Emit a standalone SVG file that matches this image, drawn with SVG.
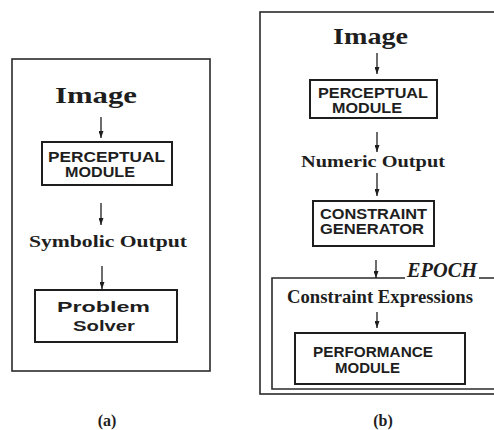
<svg xmlns="http://www.w3.org/2000/svg" width="494" height="430" viewBox="0 0 494 430">
<style>
.frame{fill:none;stroke:#2a2a2a;stroke-width:1.6}
.box{fill:none;stroke:#1e1e1e;stroke-width:2}
.serif{font-family:"Liberation Serif","Times New Roman",serif;font-weight:bold;fill:#1e1e1e}
.sans{font-family:"Liberation Sans",Arial,sans-serif;font-weight:bold;fill:#1e1e1e;font-size:14px}
.arrow{stroke:#1e1e1e;stroke-width:1.3;fill:none;marker-end:url(#ah)}
</style>
<defs>
<marker id="ah" markerUnits="userSpaceOnUse" viewBox="0 0 7 5" markerWidth="7" markerHeight="5" refX="7" refY="2.5" orient="auto">
<path d="M0,0 L7,2.5 L0,5 z" fill="#1e1e1e"/>
</marker>
</defs>
<rect width="494" height="430" fill="#ffffff"/>

<g id="frame-a"><rect class="frame" x="12" y="59" width="198" height="312"/></g>
<g id="frame-b"><rect class="frame" x="260" y="12" width="245" height="382"/></g>
<g id="epoch-frame">
<path class="frame" d="M500,278 H479 M405,278 H272 V389 H500" stroke-width="2"/>
<text class="serif" x="407" y="277" font-size="21" font-style="italic" textLength="70" lengthAdjust="spacingAndGlyphs">EPOCH</text>
</g>

<g id="a-image"><text class="serif" x="55" y="103" font-size="24" textLength="82" lengthAdjust="spacingAndGlyphs">Image</text></g>
<g id="a-perceptual">
<rect class="box" x="42" y="142" width="130" height="43"/>
<text class="sans" x="48" y="162" textLength="117" lengthAdjust="spacingAndGlyphs">PERCEPTUAL</text>
<text class="sans" x="65" y="177" textLength="70" lengthAdjust="spacingAndGlyphs">MODULE</text>
</g>
<g id="a-symbolic"><text class="serif" x="29" y="247" font-size="17" textLength="158" lengthAdjust="spacingAndGlyphs">Symbolic Output</text></g>
<g id="a-solver">
<rect class="box" x="35" y="290" width="142" height="52"/>
<text class="sans" x="57" y="312" font-size="17" textLength="93" lengthAdjust="spacingAndGlyphs">Problem</text>
<text class="sans" x="73" y="331" font-size="17" textLength="62" lengthAdjust="spacingAndGlyphs">Solver</text>
</g>

<g id="b-image"><text class="serif" x="333" y="44" font-size="24" textLength="75" lengthAdjust="spacingAndGlyphs">Image</text></g>
<g id="b-perceptual">
<rect class="box" x="310" y="80" width="127" height="38"/>
<text class="sans" x="318" y="98" font-size="13" textLength="110" lengthAdjust="spacingAndGlyphs">PERCEPTUAL</text>
<text class="sans" x="332" y="113" font-size="13" textLength="70" lengthAdjust="spacingAndGlyphs">MODULE</text>
</g>
<g id="b-numeric"><text class="serif" x="301" y="167" font-size="17" textLength="144" lengthAdjust="spacingAndGlyphs">Numeric Output</text></g>
<g id="b-constraint">
<rect class="box" x="313" y="201" width="121" height="45"/>
<text class="sans" x="320" y="219" font-size="13" textLength="107" lengthAdjust="spacingAndGlyphs">CONSTRAINT</text>
<text class="sans" x="320" y="234" font-size="13" textLength="104" lengthAdjust="spacingAndGlyphs">GENERATOR</text>
</g>
<g id="b-expressions"><text class="serif" x="287" y="303" font-size="18" textLength="186" lengthAdjust="spacingAndGlyphs">Constraint Expressions</text></g>
<g id="b-performance">
<rect class="box" x="295" y="333" width="170" height="51"/>
<text class="sans" x="313" y="357" textLength="120" lengthAdjust="spacingAndGlyphs">PERFORMANCE</text>
<text class="sans" x="335" y="373" textLength="65" lengthAdjust="spacingAndGlyphs">MODULE</text>
</g>

<g id="connectors">
<line class="arrow" x1="101" y1="117" x2="101" y2="138"/>
<line class="arrow" x1="101" y1="203" x2="101" y2="225"/>
<line class="arrow" x1="102" y1="266" x2="102" y2="289"/>
<line class="arrow" x1="377" y1="53" x2="377" y2="74"/>
<line class="arrow" x1="377" y1="132" x2="377" y2="152"/>
<line class="arrow" x1="377" y1="173" x2="377" y2="196"/>
<line class="arrow" x1="376" y1="260" x2="376" y2="278"/>
<line class="arrow" x1="377" y1="312" x2="377" y2="328"/>
</g>

<g id="labels">
<text class="serif" x="107" y="426" font-size="16" text-anchor="middle">(a)</text>
<text class="serif" x="383" y="426" font-size="16" text-anchor="middle">(b)</text>
</g>
</svg>
